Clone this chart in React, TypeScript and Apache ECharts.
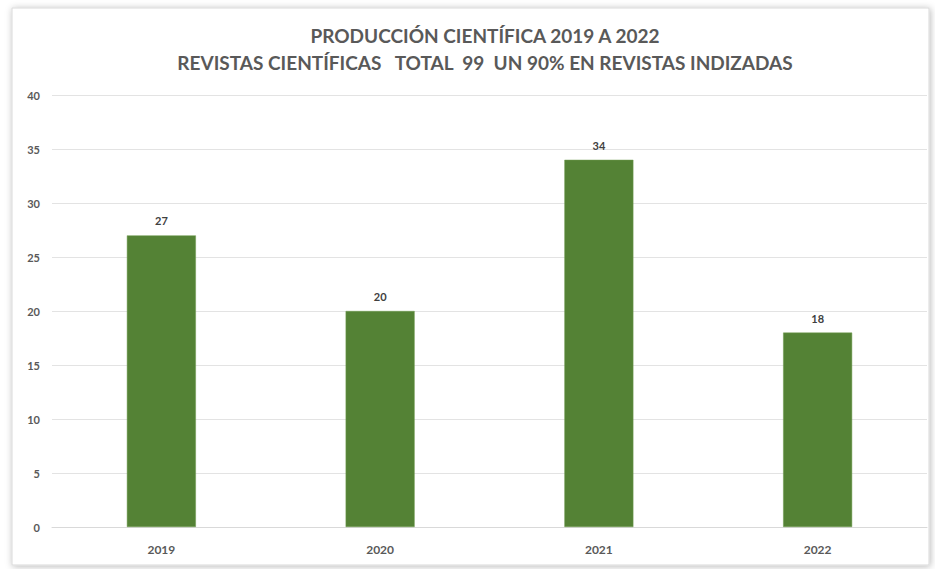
import React, { useEffect, useRef } from "react";
import * as echarts from "echarts";

const categories = ["2019", "2020", "2021", "2022"];
const values = [27, 20, 34, 18];
const titleLine1 = "PRODUCCIÓN CIENTÍFICA 2019 A 2022";
const titleLine2 = "REVISTAS CIENTÍFICAS   TOTAL  99  UN 90% EN REVISTAS INDIZADAS";

export default function App() {
  const ref = useRef<HTMLDivElement>(null);
  useEffect(() => {
    const chart = echarts.init(ref.current!, undefined, { renderer: "svg" });
    const font = "Lato, 'Open Sans', sans-serif";
    chart.setOption({
      animation: false,
      backgroundColor: "#ffffff",
      graphic: [
        {
          type: "rect",
          z: -10,
          shape: { x: 12, y: 8, width: 917, height: 557 },
          style: {
            fill: "#ffffff",
            stroke: "#d9d9d9",
            lineWidth: 1,
            shadowBlur: 7,
            shadowColor: "rgba(0,0,0,0.28)",
            shadowOffsetX: 1,
            shadowOffsetY: 1,
          },
        },
      ],
      title: {
        text: titleLine1 + "\n" + titleLine2,
        left: 480,
        textAlign: "center",
        top: 17,
        textStyle: {
          fontFamily: font,
          fontWeight: "bold",
          fontSize: 19,
          color: "#595959",
          lineHeight: 27,
        },
      },
      grid: { left: 52, right: 8, top: 95, bottom: 42 },
      xAxis: {
        type: "category",
        data: categories,
        axisTick: { show: false },
        axisLine: { lineStyle: { color: "#d9d9d9", width: 1 } },
        axisLabel: {
          margin: 16,
          fontFamily: font,
          fontWeight: "bold",
          fontSize: 12,
          color: "#595959",
        },
      },
      yAxis: {
        type: "value",
        min: 0,
        max: 40,
        interval: 5,
        axisLine: { show: false },
        axisTick: { show: false },
        splitLine: { lineStyle: { color: "#e3e3e3", width: 1 } },
        axisLabel: {
          margin: 12,
          fontFamily: font,
          fontWeight: "bold",
          fontSize: 11,
          color: "#595959",
        },
      },
      series: [
        {
          type: "bar",
          data: values,
          barWidth: 69,
          itemStyle: { color: "#548235", borderColor: "#6f9a4f", borderWidth: 0.5 },
          label: {
            show: true,
            position: "top",
            distance: 9,
            fontFamily: font,
            fontWeight: "bold",
            fontSize: 11,
            color: "#404040",
          },
        },
      ],
    });
    return () => chart.dispose();
  }, []);
  return (
    <div style={{ position: "fixed", left: 0, top: 0, width: 935, height: 569, background: "#fff" }}>
      <div ref={ref} style={{ width: 935, height: 569 }} />
    </div>
  );
}
